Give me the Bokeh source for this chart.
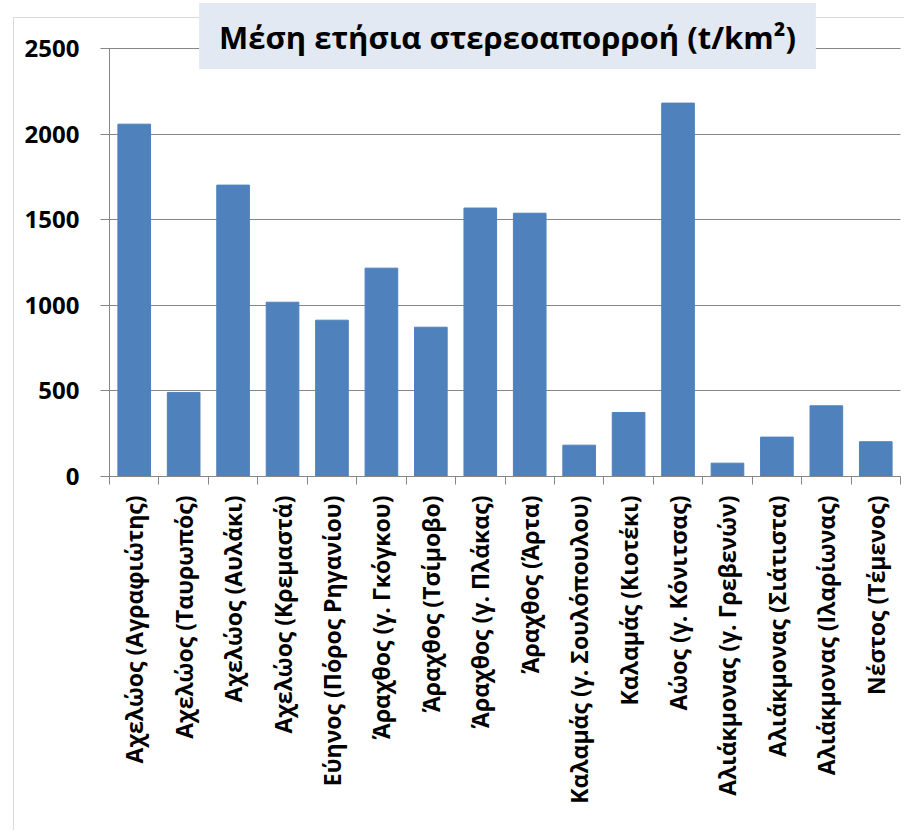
import numpy as np
from bokeh.plotting import figure
from bokeh.models import Range1d, FixedTicker, Label, BoxAnnotation
from bokeh.embed import file_html
from bokeh.resources import INLINE

# ---- data ----
stations = [
    "Αχελώος (Αγραφιώτης)",
    "Αχελώος (Ταυρωπός)",
    "Αχελώος (Αυλάκι)",
    "Αχελώος (Κρεμαστά)",
    "Εύηνος (Πόρος Ρηγανίου)",
    "Άραχθος (γ. Γκόγκου)",
    "Άραχθος (Τσίμοβο)",
    "Άραχθος (γ. Πλάκας)",
    "Άραχθος (Άρτα)",
    "Καλαμάς (γ. Σουλόπουλου)",
    "Καλαμάς (Κιοτέκι)",
    "Αώος (γ. Κόνιτσας)",
    "Αλιάκμονας (γ. Γρεβενών)",
    "Αλιάκμονας (Σιάτιστα)",
    "Αλιάκμονας (Ιλαρίωνας)",
    "Νέστος (Τέμενος)",
]
sediment_yield = [2058, 491, 1702, 1018, 913, 1217, 872, 1568, 1538,
                  183, 374, 2181, 78, 230, 413, 203]
y_ticks = [0, 500, 1000, 1500, 2000, 2500]
title_text = "Μέση ετήσια στερεοαπορροή (t/km²)"

FONT = "Open Sans"
GRAY = "#868686"
BLUE = "#4F81BD"

# ---- layout (pixels) ----
W, H = 904, 830
PL, PR, PT, PB = 109, 900, 48, 476          # plot area
YMAX = y_ticks[-1]
n = len(stations)
kx = (PR - PL) / n
ky = (PB - PT) / YMAX

def px2x(px):
    return (px - PL) / kx

def px2y(py):
    return (PB - py) / ky

centers = list(np.arange(n) + 0.5)
boundaries = list(range(n + 1))

p = figure(width=W, height=H, output_backend="svg", toolbar_location=None,
           x_range=Range1d(px2x(0), px2x(W)), y_range=Range1d(px2y(H), px2y(0)),
           min_border=0)
p.outline_line_color = None
p.background_fill_color = "white"
p.border_fill_color = "white"
p.xgrid.visible = False
p.ygrid.visible = False

# outer chart border (right / bottom edges lie outside the picture)
p.add_layout(BoxAnnotation(left=px2x(13), top=px2y(17), right=px2x(W + 20), bottom=px2y(H + 20),
                           fill_color=None, line_color=GRAY, line_width=1, level="underlay"))

p.vbar(x=centers, top=sediment_yield, width=0.66, fill_color=BLUE, line_color=BLUE)

# x axis: labels at centres, tick marks at category boundaries
xa = p.xaxis[0]
xa.fixed_location = 0
xa.bounds = (0, n)
xa.ticker = FixedTicker(ticks=centers, minor_ticks=boundaries)
xa.major_label_overrides = {c: s for c, s in zip(centers, stations)}
xa.major_label_orientation = np.pi / 2
xa.major_tick_out = 0
xa.major_tick_in = 0
xa.minor_tick_out = 8
xa.minor_tick_in = 0
xa.minor_tick_line_color = GRAY
xa.axis_line_color = GRAY
xa.major_label_standoff = 11
xa.major_label_text_font = FONT
xa.major_label_text_font_style = "bold"
xa.major_label_text_font_size = "23px"
xa.major_label_text_color = "black"

# y axis; its inward ticks double as the horizontal gridlines
ya = p.yaxis[0]
ya.fixed_location = 0
ya.bounds = (0, YMAX)
ya.level = "underlay"
ya.ticker = FixedTicker(ticks=y_ticks)
ya.major_tick_out = 9
ya.major_tick_in = PR - PL
ya.minor_tick_out = 0
ya.minor_tick_in = 0
ya.major_tick_line_color = GRAY
ya.axis_line_color = GRAY
ya.major_label_standoff = 21
ya.major_label_text_font = FONT
ya.major_label_text_font_style = "bold"
ya.major_label_text_font_size = "24px"
ya.major_label_text_color = "black"

# title box
p.add_layout(Label(x=px2x(507), y=px2y(35.5), text=title_text,
                   text_align="center", text_baseline="middle",
                   text_font=FONT, text_font_style="bold", text_font_size="31px",
                   text_color="black",
                   background_fill_color="#E2E9F3", border_line_color=None,
                   padding=dict(left=20, right=20, top=13, bottom=11)))

open("out.html", "w").write(file_html(p, INLINE))
